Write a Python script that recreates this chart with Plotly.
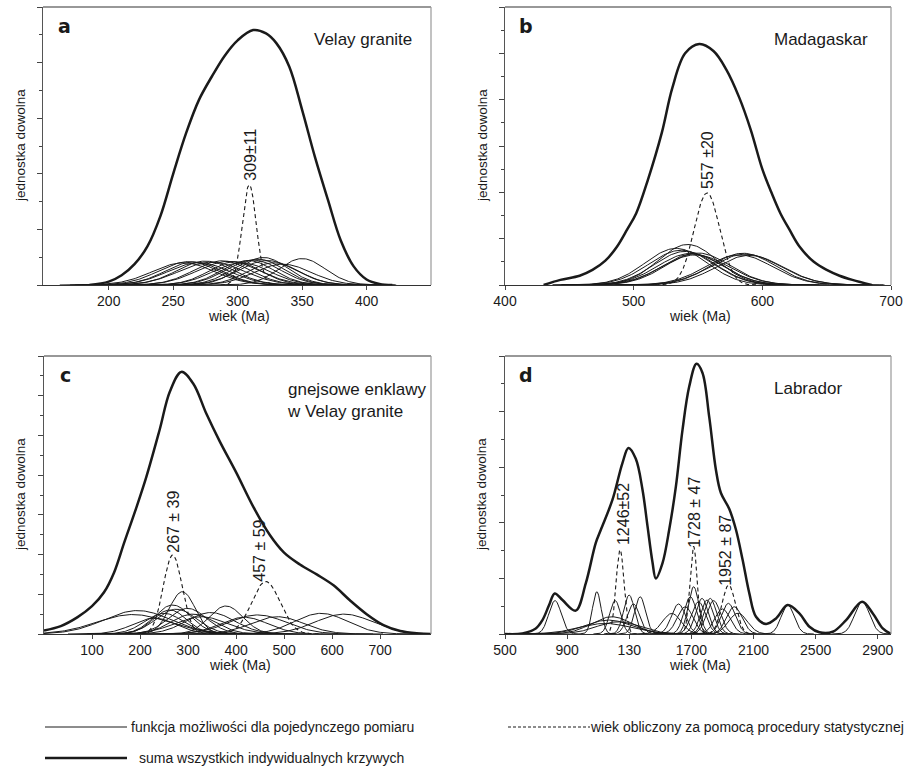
import numpy as np
import plotly.graph_objects as go

W, H = 912, 769
FONT = "Liberation Sans, Arial, sans-serif"
INK = "#1a1a1a"

# ---------------- data ----------------
# panel a : Velay granite
a_sum_x = [185, 200, 210, 220, 230, 240, 250, 260, 270, 280, 290, 300, 312, 322, 330, 340, 350, 360, 370, 380, 390, 400, 410, 420]
a_sum_y = [0, 0.12, 0.35, 0.75, 1.39, 2.47, 4.0, 5.46, 6.66, 7.5, 8.25, 8.8, 9.17, 9.05, 8.7, 7.86, 6.3, 4.6, 3.07, 1.6, 0.67, 0.2, 0.04, 0]
a_ind_center = [258, 262, 266, 270, 275, 280, 288, 293, 298, 303, 308, 312, 316, 320, 323, 328, 335, 350]
a_ind_sigma = [24, 23, 22, 24, 22, 25, 22, 24, 20, 22, 20, 21, 20, 19, 22, 20, 22, 18]
a_ind_height = [0.80, 0.84, 0.83, 0.80, 0.86, 0.82, 0.87, 0.85, 0.84, 0.80, 0.88, 0.90, 0.93, 0.99, 0.88, 0.80, 0.75, 0.95]
a_age_center = [309]
a_age_sigma = [5.5]
a_age_height = [3.6]
a_age_label = ["309±11"]
a_ticks = [200, 250, 300, 350, 400]

# panel b : Madagaskar
b_sum_x = [430, 443, 458, 468, 478, 487, 495, 502, 511, 522, 530, 540, 551, 562, 572, 582, 591, 600, 607, 614, 621, 629, 640, 650, 660, 670, 685]
b_sum_y = [0, 0.22, 0.4, 0.65, 1.05, 1.65, 2.4, 3.1, 4.53, 6.6, 8.5, 10.0, 10.4, 10.1, 9.3, 8.1, 6.7, 5.0, 4.0, 3.1, 2.4, 1.65, 1.0, 0.65, 0.4, 0.22, 0]
b_ind_center = [533, 537, 540, 542, 544, 546, 548, 550, 582, 585, 587, 590]
b_ind_sigma = [24, 25, 24, 23, 25, 24, 26, 25, 26, 25, 27, 26]
b_ind_height = [1.58, 1.50, 1.45, 1.75, 1.36, 1.34, 1.30, 1.38, 1.30, 1.37, 1.33, 1.28]
b_age_center = [557]
b_age_sigma = [10]
b_age_height = [3.97]
b_age_label = ["557 ±20"]
b_ticks = [400, 500, 600, 700]

# panel c : gnejsowe enklawy w Velay granite
c_sum_x = [0, 35, 70, 100, 125, 146, 167, 190, 213, 241, 262, 286, 311, 338, 366, 401, 436, 470, 500, 533, 568, 603, 637, 672, 707, 742, 780, 806]
c_sum_y = [0.18, 0.4, 0.85, 1.4, 2.1, 3.1, 4.6, 6.2, 7.9, 10.3, 12.2, 13.2, 12.6, 11.1, 9.7, 8.1, 6.4, 5.0, 4.1, 3.5, 3.0, 2.45, 1.7, 1.0, 0.45, 0.15, 0.03, 0]
c_ind_center = [195, 185, 230, 250, 262, 268, 276, 288, 299, 310, 327, 347, 379, 417, 445, 486, 577, 625]
c_ind_sigma = [70, 75, 45, 40, 35, 38, 42, 27, 40, 45, 55, 50, 35, 50, 60, 55, 55, 60]
c_ind_height = [1.18, 0.98, 0.80, 1.04, 1.21, 1.46, 1.25, 2.13, 1.29, 1.00, 0.87, 1.08, 1.41, 0.84, 0.96, 0.87, 1.04, 1.00]
c_age_center = [268, 462]
c_age_sigma = [19.5, 29.5]
c_age_height = [3.98, 2.64]
c_age_label = ["267 ± 39", "457 ± 59"]
c_ticks = [100, 200, 300, 400, 500, 600, 700]

# panel d : Labrador
d_sum_x = [500, 612, 698, 741, 784, 820, 870, 955, 1020, 1084, 1117, 1192, 1256, 1295, 1342, 1385, 1417, 1449, 1471, 1514, 1557, 1600, 1643, 1686, 1733, 1771, 1815, 1858, 1890, 1944, 1987, 2030, 2073, 2116, 2180, 2245, 2320, 2395, 2460, 2524, 2610, 2696, 2799, 2868, 2932, 2985]
d_sum_y = [0, 0.02, 0.2, 0.5, 1.04, 1.46, 1.22, 0.84, 1.82, 3.27, 3.75, 4.83, 6.15, 6.69, 6.3, 5.2, 3.9, 2.6, 2.0, 2.55, 3.75, 5.3, 7.35, 8.9, 9.72, 9.4, 7.8, 5.9, 5.07, 4.5, 3.75, 2.66, 1.46, 0.62, 0.36, 0.56, 1.04, 0.74, 0.26, 0.06, 0.08, 0.5, 1.16, 0.74, 0.2, 0]
d_ind_center = [822, 1091, 1209, 1299, 1370, 1327, 1166, 1145, 1188, 1230, 1574, 1617, 1660, 1693, 1714, 1746, 1768, 1800, 1821, 1843, 1900, 1938, 1976, 2000, 2320, 2799]
d_ind_sigma = [40, 28, 35, 35, 35, 40, 150, 170, 130, 140, 60, 45, 50, 40, 35, 45, 40, 40, 40, 45, 50, 45, 50, 60, 42, 48]
d_ind_height = [1.20, 1.52, 1.20, 1.40, 1.34, 1.08, 0.50, 0.38, 0.62, 0.44, 0.74, 1.08, 0.98, 1.34, 1.70, 1.16, 1.28, 1.22, 1.28, 1.20, 0.90, 1.10, 0.98, 0.75, 1.04, 1.16]
d_age_center = [1241, 1714, 1940]
d_age_sigma = [26, 23.5, 43.5]
d_age_height = [3.03, 3.15, 1.76]
d_age_label = ["1246±52", "1728 ± 47", "1952 ± 87"]
d_ticks = [500, 900, 1300, 1700, 2100, 2500, 2900]
d_ticktext = ["500", "900", "130", "1700", "2100", "2500", "2900"]

panel_letters = ["a", "b", "c", "d"]
panel_titles = ["Velay granite", "Madagaskar", "gnejsowe enklawy<br>w Velay granite", "Labrador"]
x_title = "wiek (Ma)"
y_title = "jednostka dowolna"
legend_labels = ["funkcja możliwości dla pojedynczego pomiaru",
                 "wiek obliczony za pomocą procedury statystycznej",
                 "suma wszystkich indywidualnych krzywych"]

# ---------------- layout geometry (pixels) ----------------
boxes = [(43, 7, 431, 285), (505, 7, 891, 285), (44, 356, 431, 634), (505, 356, 891, 634)]
xranges = [[149, 450], [400, 700], [0, 806], [500, 2985]]
yranges = [[0, 10], [0, 12], [0, 14], [0, 10]]

def px(x):
    return x / W

def py(y):
    return 1 - y / H

def gauss_curve(c, s, h, lo, hi):
    xs = np.linspace(max(lo, c - 4 * s), min(hi, c + 4 * s), 161)
    ys = h * np.exp(-0.5 * ((xs - c) / s) ** 2)
    return xs, ys

panels = [
    dict(sx=a_sum_x, sy=a_sum_y, ic=a_ind_center, isg=a_ind_sigma, ih=a_ind_height,
         ac=a_age_center, asg=a_age_sigma, ah=a_age_height, al=a_age_label,
         ticks=a_ticks, ticktext=[str(t) for t in a_ticks]),
    dict(sx=b_sum_x, sy=b_sum_y, ic=b_ind_center, isg=b_ind_sigma, ih=b_ind_height,
         ac=b_age_center, asg=b_age_sigma, ah=b_age_height, al=b_age_label,
         ticks=b_ticks, ticktext=[str(t) for t in b_ticks]),
    dict(sx=c_sum_x, sy=c_sum_y, ic=c_ind_center, isg=c_ind_sigma, ih=c_ind_height,
         ac=c_age_center, asg=c_age_sigma, ah=c_age_height, al=c_age_label,
         ticks=c_ticks, ticktext=[str(t) for t in c_ticks]),
    dict(sx=d_sum_x, sy=d_sum_y, ic=d_ind_center, isg=d_ind_sigma, ih=d_ind_height,
         ac=d_age_center, asg=d_age_sigma, ah=d_age_height, al=d_age_label,
         ticks=d_ticks, ticktext=d_ticktext),
]

# label positions (data coords) for the rotated age labels
age_label_pos = [
    [(310, 4.67)],
    [(557.5, 5.38)],
    [(269, 5.66), (448, 4.2)],
    [(1267, 4.32), (1718, 4.37), (1918, 3.0)],
]

fig = go.Figure()
annotations = []
shapes = []
layout_axes = {}

for i, p in enumerate(panels):
    n = "" if i == 0 else str(i + 1)
    xa, ya = "x" + n, "y" + n
    lo, hi = xranges[i]
    for c, s, h in zip(p["ic"], p["isg"], p["ih"]):
        xs, ys = gauss_curve(c, s, h, lo, hi)
        fig.add_trace(go.Scatter(x=xs, y=ys, mode="lines", xaxis=xa, yaxis=ya,
                                 line=dict(color=INK, width=1.0), showlegend=False, hoverinfo="skip"))
    for c, s, h in zip(p["ac"], p["asg"], p["ah"]):
        xs, ys = gauss_curve(c, s, h, lo, hi)
        fig.add_trace(go.Scatter(x=xs, y=ys, mode="lines", xaxis=xa, yaxis=ya,
                                 line=dict(color=INK, width=1.1, dash="4px,3px"), showlegend=False, hoverinfo="skip"))
    fig.add_trace(go.Scatter(x=p["sx"], y=p["sy"], mode="lines", xaxis=xa, yaxis=ya,
                             line=dict(color=INK, width=2.5, shape="spline", smoothing=1.0),
                             showlegend=False, hoverinfo="skip"))

    x0, y0, x1, y1 = boxes[i]
    layout_axes["xaxis" + n] = dict(
        domain=[px(x0), px(x1)], range=xranges[i], anchor=ya, automargin=False,
        tickmode="array", tickvals=p["ticks"], ticktext=p["ticktext"],
        ticks="outside", ticklen=4, tickwidth=1, tickcolor="#444", ticklabelstandoff=-1,
        showline=True, linecolor="#333", linewidth=1.2, showgrid=False, zeroline=False,
        tickfont=dict(family=FONT, size=14, color=INK), fixedrange=True)
    layout_axes["yaxis" + n] = dict(
        domain=[py(y1), py(y0)], range=yranges[i], anchor=xa, automargin=False,
        showticklabels=False, tickmode="linear", tick0=0, dtick=2,
        ticks="outside", ticklen=5, tickwidth=1, tickcolor="#444",
        minor=dict(dtick=1, ticklen=3, ticks="outside", tickcolor="#444", tickwidth=1),
        showline=True, linecolor="#555", linewidth=1.2, showgrid=False, zeroline=False, fixedrange=True)

    # top and right frame lines
    shapes.append(dict(type="line", xref=xa + " domain", yref=ya + " domain", x0=0, x1=1, y0=1, y1=1,
                       line=dict(color="#333", width=1.2)))
    shapes.append(dict(type="line", xref=xa + " domain", yref=ya + " domain", x0=1, x1=1, y0=0, y1=1,
                       line=dict(color="#999", width=1.2)))

    # rotated age labels
    for (lx, ly), txt in zip(age_label_pos[i], p["al"]):
        annotations.append(dict(x=lx, y=ly, xref=xa, yref=ya, text=txt, showarrow=False, textangle=-90,
                                font=dict(family=FONT, size=16, color=INK), xanchor="center", yanchor="middle"))

    # panel letter
    annotations.append(dict(x=px(x0 + 21), y=py(y0 + 19), xref="paper", yref="paper", text="<b>%s</b>" % panel_letters[i],
                            showarrow=False, font=dict(family="DejaVu Sans", size=19, color=INK),
                            xanchor="center", yanchor="middle"))
    # axis titles
    annotations.append(dict(x=px((x0 + x1) / 2 + 2), y=py(y1 + 31), xref="paper", yref="paper",
                            text=x_title, showarrow=False, font=dict(family=FONT, size=14, color=INK),
                            xanchor="center", yanchor="middle", borderpad=0))
    annotations.append(dict(x=px(x0 - 23), y=py((y0 + y1) / 2), xref="paper", yref="paper",
                            text=y_title, showarrow=False, textangle=-90, font=dict(family=FONT, size=13.5, color=INK),
                            xanchor="center", yanchor="middle"))

# panel titles
title_pos = [(312, 39), (772, 39), (285, 400), (772, 389)]
for (tx, ty), t in zip(title_pos, panel_titles):
    annotations.append(dict(x=px(tx), y=py(ty), xref="paper", yref="paper", text=t, showarrow=False, align="left",
                            font=dict(family=FONT, size=17, color=INK), xanchor="left", yanchor="middle"))

# legend (drawn by hand)
shapes.append(dict(type="line", xref="paper", yref="paper", x0=px(45), x1=px(127), y0=py(727), y1=py(727),
                   line=dict(color=INK, width=1.0)))
annotations.append(dict(x=px(129), y=py(727), xref="paper", yref="paper", text=legend_labels[0], showarrow=False,
                        font=dict(family=FONT, size=14, color=INK), xanchor="left", yanchor="middle"))
shapes.append(dict(type="line", xref="paper", yref="paper", x0=px(508), x1=px(590), y0=py(727), y1=py(727),
                   line=dict(color=INK, width=1.1, dash="3px,2px")))
annotations.append(dict(x=px(906), y=py(727), xref="paper", yref="paper", text=legend_labels[1], showarrow=False,
                        font=dict(family=FONT, size=14, color=INK), xanchor="right", yanchor="middle"))
shapes.append(dict(type="line", xref="paper", yref="paper", x0=px(45), x1=px(127), y0=py(758), y1=py(758),
                   line=dict(color=INK, width=2.6)))
annotations.append(dict(x=px(137), y=py(758), xref="paper", yref="paper", text=legend_labels[2], showarrow=False,
                        font=dict(family=FONT, size=14, color=INK), xanchor="left", yanchor="middle"))

fig.update_layout(
    width=W, height=H, margin=dict(l=0, r=0, t=0, b=0, autoexpand=False),
    paper_bgcolor="white", plot_bgcolor="white",
    showlegend=False, annotations=annotations, shapes=shapes,
    **layout_axes,
)

fig.write_html("out.html", config={"displayModeBar": False, "staticPlot": True},
               post_script="document.body.style.margin='0px';document.body.style.padding='0px';")
